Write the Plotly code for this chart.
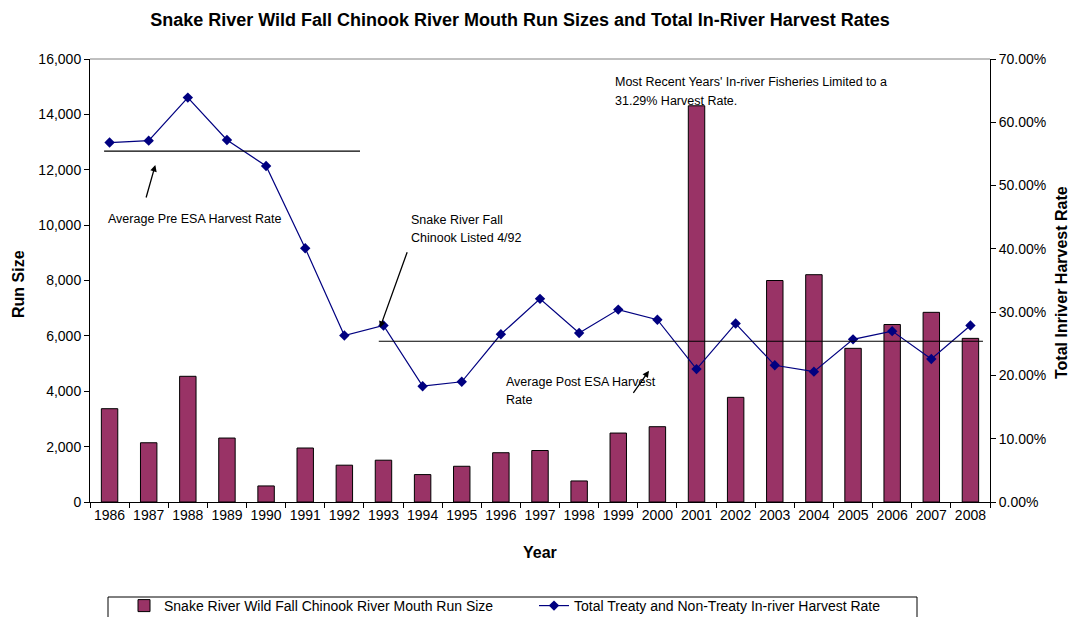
import plotly.graph_objects as go

# Return years
years = [str(y) for y in range(1986, 2009)]

# River mouth run size (fish)
run_size = [3370, 2140, 4540, 2310, 580, 1950, 1330, 1510, 990, 1290, 1780,
            1860, 760, 2490, 2720, 14310, 3780, 8000, 8210, 5550, 6410, 6850, 5910]

# Total treaty + non-treaty in-river harvest rate (fraction)
harvest_rate = [0.568, 0.571, 0.639, 0.572, 0.531, 0.401, 0.263, 0.279, 0.183,
                0.190, 0.265, 0.321, 0.267, 0.304, 0.288, 0.210, 0.282, 0.216,
                0.206, 0.257, 0.270, 0.226, 0.279]

# Average harvest rates before / after the ESA listing
pre_esa_avg = 0.5545
post_esa_avg = 0.254

FONT = "Liberation Sans, Arial, sans-serif"
L, R, T, B = 90, 82, 59, 115
W, H = 1072, 617
PW, PH = W - L - R, H - T - B


def px(x):
    return (x - L) / PW


def py(y):
    return (H - B - y) / PH


fig = go.Figure()

fig.add_trace(go.Bar(
    x=years, y=run_size,
    name="Snake River Wild Fall Chinook River Mouth Run Size",
    marker=dict(color="#993366", line=dict(color="#000000", width=1)),
    yaxis="y",
))

fig.add_trace(go.Scatter(
    x=years, y=harvest_rate,
    name="Total Treaty and Non-Treaty In-river Harvest Rate",
    mode="lines+markers",
    line=dict(color="#000080", width=1.2),
    marker=dict(symbol="diamond", size=8, color="#000080"),
    yaxis="y2",
))

shapes = [
    # pre-ESA average
    dict(type="line", xref="x", yref="y2", x0=-0.14, x1=6.4,
         y0=pre_esa_avg, y1=pre_esa_avg, line=dict(color="black", width=1.2)),
    # post-ESA average
    dict(type="line", xref="x", yref="y2", x0=6.88, x1=22.32,
         y0=post_esa_avg, y1=post_esa_avg, line=dict(color="black", width=1.2)),
    # plot-area top border
    dict(type="line", xref="paper", yref="paper", x0=0, x1=1, y0=1, y1=1,
         line=dict(color="#808080", width=1)),
    # legend frame
    dict(type="rect", xref="paper", yref="paper", x0=px(108), x1=px(917),
         y0=py(597), y1=py(625), line=dict(color="black", width=1)),
]

ann_font = dict(family=FONT, size=12.5, color="black")
annotations = []


def text(x, y, s):
    annotations.append(dict(xref="paper", yref="paper", x=px(x), y=py(y),
                            text=s, showarrow=False, xanchor="left",
                            yanchor="middle", font=ann_font))


def arrow(hx, hy, tx, ty):
    annotations.append(dict(xref="paper", yref="paper", x=px(hx), y=py(hy),
                            ax=tx - hx, ay=ty - hy, text="", showarrow=True,
                            arrowhead=2, arrowsize=1, arrowwidth=1.3,
                            arrowcolor="black"))


text(106, 219, "Average Pre ESA Harvest Rate")
arrow(155.3, 165, 145.7, 199)

text(409, 219.5, "Snake River Fall")
text(409, 238.5, "Chinook Listed 4/92")
arrow(380, 327.7, 407.7, 250.7)

text(504, 382, "Average Post ESA Harvest")
text(504, 399.5, "Rate")
arrow(649, 370.7, 632.3, 394.3)

text(613, 82, "Most Recent Years' In-river Fisheries Limited to a")
text(613, 101, "31.29% Harvest Rate.")

# axis titles
title_font = dict(family=FONT, size=16, color="black")
annotations.append(dict(xref="paper", yref="paper", x=px(18), y=py(284),
                        text="<b>Run Size</b>", showarrow=False, textangle=-90,
                        font=title_font, xanchor="center", yanchor="middle"))
annotations.append(dict(xref="paper", yref="paper", x=px(1061), y=py(283),
                        text="<b>Total Inriver Harvest Rate</b>", showarrow=False,
                        textangle=-90, font=title_font, xanchor="center",
                        yanchor="middle"))
annotations.append(dict(xref="paper", yref="paper", x=px(540), y=py(552),
                        text="<b>Year</b>", showarrow=False, font=title_font,
                        xanchor="center", yanchor="middle"))

tick_font = dict(family=FONT, size=14, color="black")

fig.update_layout(
    width=W, height=H,
    margin=dict(l=L, r=R, t=T, b=B, autoexpand=False),
    paper_bgcolor="white", plot_bgcolor="white",
    font=dict(family=FONT, size=13, color="black"),
    title=dict(text="<b>Snake River Wild Fall Chinook River Mouth Run Sizes and Total In-River Harvest Rates</b>",
               x=520 / W, xanchor="center", y=1 - 20 / H, yanchor="middle",
               font=dict(family=FONT, size=18, color="black")),
    bargap=0.58,
    showlegend=True,
    legend=dict(orientation="h", x=px(124), y=py(590), xanchor="left",
                yanchor="top", borderwidth=0, bgcolor="rgba(0,0,0,0)",
                font=dict(family=FONT, size=14), entrywidth=365,
                traceorder="normal", tracegroupgap=0),
    xaxis=dict(type="category", tickson="boundaries", ticks="outside",
               ticklen=5, tickcolor="black", showline=True, linecolor="black",
               linewidth=1, showgrid=False, tickfont=tick_font, tickangle=0,
               range=[-0.5, 22.5]),
    yaxis=dict(range=[0, 16000], dtick=2000, tickformat=",", ticks="outside",
               ticklen=5, tickcolor="black", showline=True, linecolor="black",
               linewidth=1, showgrid=False, zeroline=False,
               tickfont=tick_font),
    yaxis2=dict(range=[0, 0.70], dtick=0.10, tickformat=".2%", overlaying="y",
                side="right", ticks="outside", ticklen=5, tickcolor="black",
                showline=True, linecolor="black", linewidth=1, showgrid=False,
                zeroline=False, tickfont=tick_font),
    shapes=shapes,
    annotations=annotations,
)

fig.write_html("out.html")
